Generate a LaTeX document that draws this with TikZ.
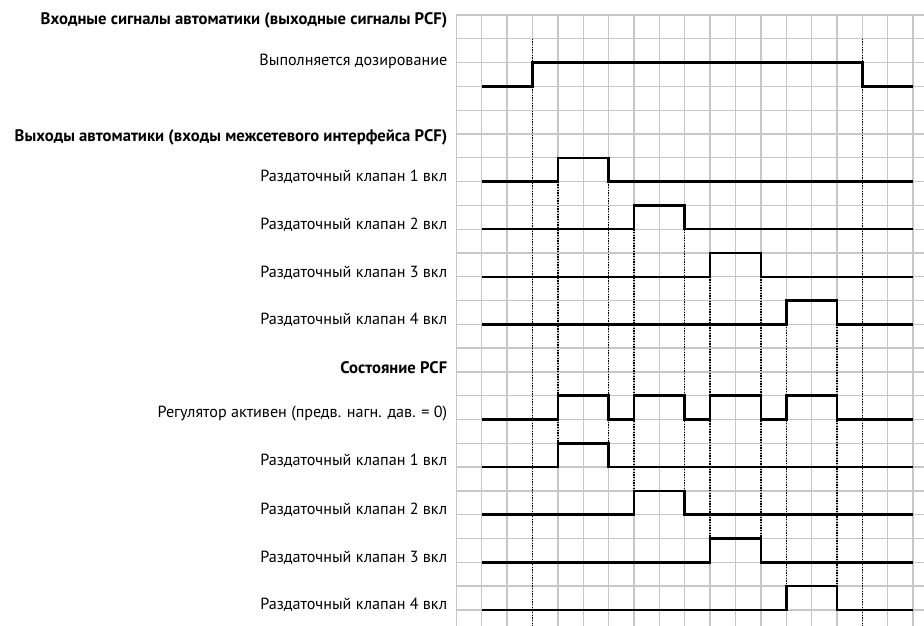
\documentclass[tikz,border=0pt]{standalone}
\usepackage{fontspec}
\setmainfont{PT Sans}
\usepackage{tikz}

\tikzset{
  gridln/.style={draw=black!22, line width=1pt},
  marker/.style={densely dotted, line width=1pt},
  sig/.style={line width=1.9pt, line join=miter},
  lbl/.style={anchor=east, inner sep=0pt, font=\fontsize{12.1}{14}\selectfont},
  head/.style={lbl, font=\fontsize{12.5}{14}\selectfont\bfseries},
}

\begin{document}
\begin{tikzpicture}[x=19.03pt, y=-17.85pt]
    \useasboundingbox (-17.99,-0.63) rectangle (18.43,25.67);

    % grid
    \foreach \r in {0,...,25}
        \draw[gridln] (0,\r) -- (18.43,\r);
    \foreach \c in {0,...,18}
        \draw[gridln] (\c,0) -- (\c,25.67);

    % dotted time markers
    \draw[marker] (3,1) -- (3,25.67);
    \draw[marker] (16,1) -- (16,25.67);
    \foreach \a/\r in {4/7, 7/9, 10/11, 13/13} {
        \draw[marker] (\a,\r) -- (\a,\r+11);
        \draw[marker] (\a+2,\r) -- (\a+2,\r+11);
    }

    % signals
    \draw[sig] (1,3) -- (3,3) -- (3,2) -- (16,2) -- (16,3) -- (18,3);
    \foreach \a/\r in {4/7, 7/9, 10/11, 13/13} {
        \draw[sig] (1,\r) -- (\a,\r) -- (\a,\r-1) -- (\a+2,\r-1) -- (\a+2,\r) -- (18,\r);
        \draw[sig] (1,\r+12) -- (\a,\r+12) -- (\a,\r+11) -- (\a+2,\r+11) -- (\a+2,\r+12) -- (18,\r+12);
    }
    \draw[sig] (1,17) -- (4,17) -- (4,16) -- (6,16) -- (6,17) -- (7,17) -- (7,16) -- (9,16)
        -- (9,17) -- (10,17) -- (10,16) -- (12,16) -- (12,17) -- (13,17) -- (13,16) -- (15,16)
        -- (15,17) -- (18,17);

    % labels
    \node[head] (hdin) at (-0.35,0.21) {Входные сигналы автоматики (выходные сигналы PCF)};
    \node[lbl] (dose) at (-0.35,1.93) {Выполняется дозирование};
    \node[head] (hdout) at (-0.35,5.13) {Выходы автоматики (входы межсетевого интерфейса PCF)};
    \node[lbl] (outa) at (-0.35,6.8) {Раздаточный клапан 1 вкл};
    \node[lbl] (outb) at (-0.35,8.82) {Раздаточный клапан 2 вкл};
    \node[lbl] (outc) at (-0.35,10.84) {Раздаточный клапан 3 вкл};
    \node[lbl] (outd) at (-0.35,12.82) {Раздаточный клапан 4 вкл};
    \node[head] (hdstate) at (-0.35,14.83) {Состояние PCF};
    \node[lbl] (reg) at (-0.35,16.76) {Регулятор активен (предв. нагн. дав. = 0)};
    \node[lbl] (sta) at (-0.35,18.74) {Раздаточный клапан 1 вкл};
    \node[lbl] (stb) at (-0.35,20.8) {Раздаточный клапан 2 вкл};
    \node[lbl] (stc) at (-0.35,22.82) {Раздаточный клапан 3 вкл};
    \node[lbl] (std) at (-0.35,24.79) {Раздаточный клапан 4 вкл};
\end{tikzpicture}
\end{document}
